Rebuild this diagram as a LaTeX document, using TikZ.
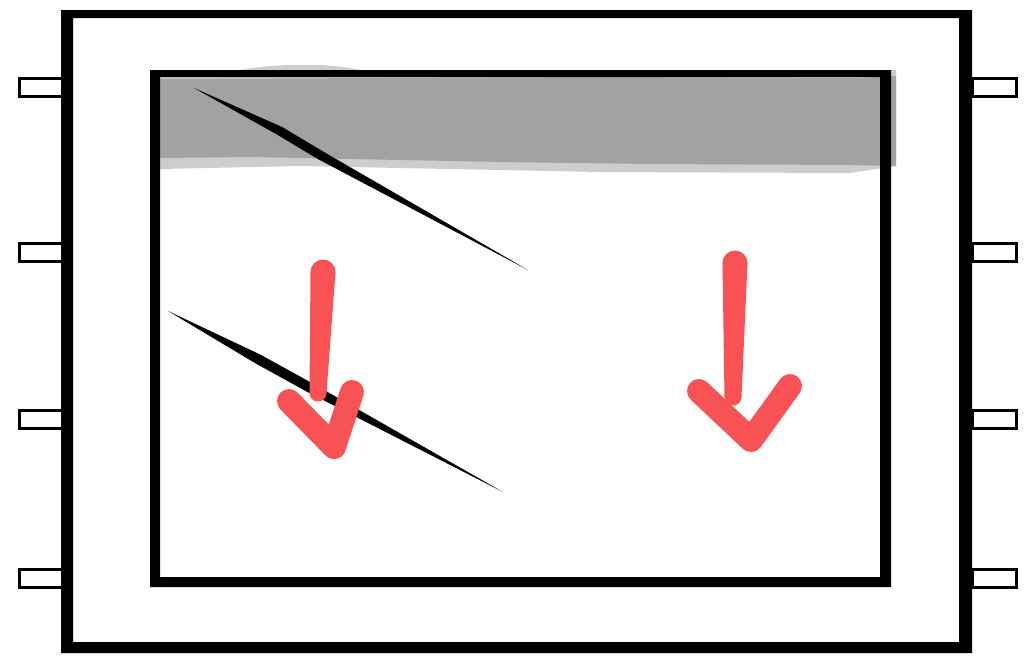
\documentclass[tikz,border=0pt]{standalone}
\usepackage{xcolor}
\usepackage{tikz}
\usetikzlibrary{positioning}

\definecolor{bandgray}{RGB}{162,162,162}
\definecolor{bandlight}{RGB}{205,205,205}
\definecolor{markred}{RGB}{249,82,84}

\tikzset{
  tabbox/.style={draw=black, fill=white, line width=0.85pt},
  redmark/.style={draw=markred, line width=6.8pt, line cap=round, line join=round},
  redfill/.style={fill=markred}
}

\begin{document}
\begin{tikzpicture}[x=0.01cm,y=-0.01cm]
\useasboundingbox (0,0) rectangle (1024,669);
\fill[white] (0,0) rectangle (1024,669);

% Shaded band along the top of the pane
\fill[bandlight] (240,70) .. controls (280,63) and (330,63) .. (360,70)
  -- (896,70) -- (896,166) -- (850,173) -- (600,172) -- (450,169)
  -- (300,166) -- (160,169) -- (160,70) -- cycle;
\fill[bandgray] (160,79) -- (600,77) -- (860,78) -- (896,76)
  -- (896,166) -- (850,165) -- (650,164) -- (500,162)
  -- (350,159) -- (250,157) -- (160,158) -- cycle;

% Inner pane
\fill[even odd rule] (150,70) rectangle (891,587) (160,77) rectangle (880,577);

% Outer frame
\fill[even odd rule] (61,10) rectangle (972,653) (73,18) rectangle (959,642);

% Fixing lugs, left and right
\foreach \y in {87,252,419,578} {
    \draw[tabbox] (19.5,\y-9) rectangle (62,\y+9);
    \draw[tabbox] (972,\y-9) rectangle (1016.5,\y+9);
}

% Crack lines
\fill[black] (194,88) -- (282.2,127) -- (322.2,151) -- (528,270)
  -- (317.8,159) -- (277.8,135) -- cycle;
\fill[black] (168,311) -- (260.4,354.6) -- (312.4,383.3) -- (503,492)
  -- (307.6,392.1) -- (255.6,363.4) -- cycle;

% Red arrow, left
\fill[redfill] (323,272) circle (12.5) (318,393) circle (8.5);
\fill[redfill] (310.5,272) -- (335.5,272) -- (326.5,393) -- (309.5,393) -- cycle;
\draw[redmark] (289,401) -- (334,447) -- (352,392);

% Red arrow, right
\fill[redfill] (735,263) circle (12.5) (733,397) circle (8.5);
\fill[redfill] (722.5,263) -- (747.5,263) -- (741.5,397) -- (724.5,397) -- cycle;
\draw[redmark] (699,391) -- (751,440) -- (790,386);

\end{tikzpicture}
\end{document}
